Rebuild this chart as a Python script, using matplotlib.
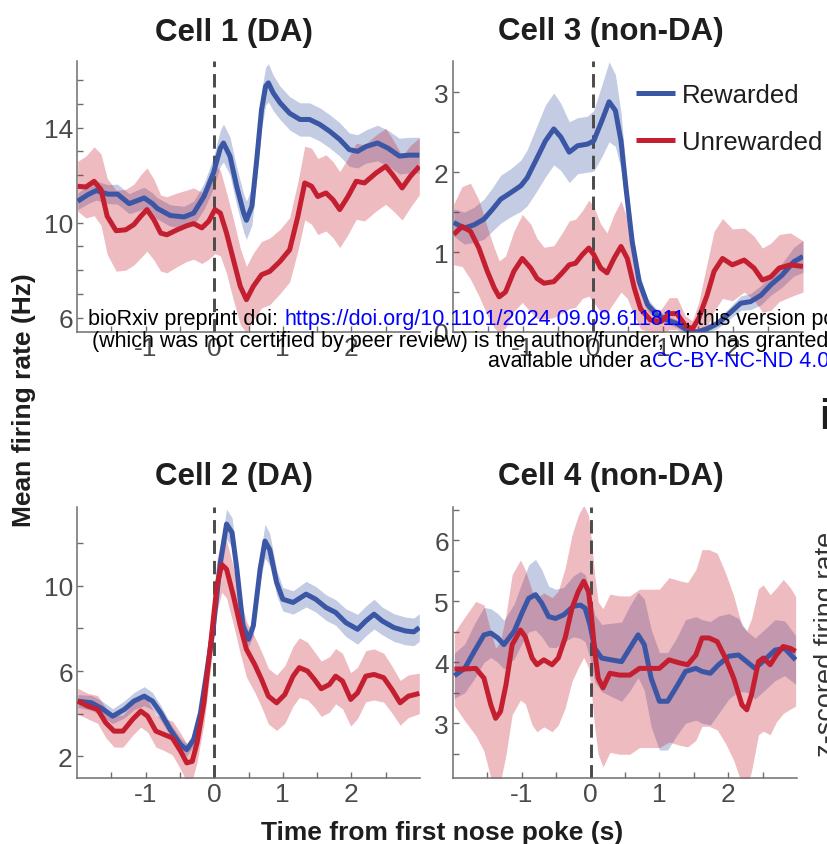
import matplotlib
matplotlib.use("Agg")
import matplotlib.pyplot as plt
from matplotlib.ticker import FixedLocator
import numpy as np

# ---------------- data: mean firing rate (Hz) and SEM around first nose poke ----------------
# Cell 1 (DA)
c1_t_rew = [-1.99, -1.84, -1.72, -1.55, -1.41, -1.24, -1.10, -1.02, -0.90, -0.83, -0.64, -0.44,
            -0.30, -0.15, -0.01, 0.09, 0.135, 0.23, 0.33, 0.43, 0.47, 0.55, 0.62, 0.69, 0.75, 0.79,
            0.86, 0.96, 1.10, 1.25, 1.39, 1.54, 1.68, 1.83, 1.97, 2.09, 2.21, 2.38, 2.53, 2.70, 2.84, 2.99]
c1_rew = [10.9, 11.18, 11.35, 11.2, 11.2, 10.8, 10.95, 11.04, 10.8, 10.6, 10.3, 10.24,
          10.4, 11.1, 12.1, 13.14, 13.35, 12.8, 11.5, 10.4, 10.1, 10.7, 12.65, 14.75, 15.74, 15.88,
          15.46, 15.04, 14.6, 14.34, 14.34, 14.13, 13.85, 13.5, 13.07, 13.0, 13.2, 13.35, 13.14, 12.8, 12.84, 12.84]
c1_rew_sem = [0.35, 0.38, 0.4, 0.4, 0.42, 0.42, 0.45, 0.45, 0.45, 0.45, 0.45, 0.45,
              0.5, 0.55, 0.65, 0.75, 0.8, 0.8, 0.8, 0.8, 0.8, 0.8, 0.8, 0.8, 0.8, 0.8,
              0.75, 0.7, 0.7, 0.7, 0.7, 0.7, 0.7, 0.7, 0.7, 0.7, 0.7, 0.75, 0.75, 0.75, 0.75, 0.75]
c1_t_unr = [-1.99, -1.87, -1.75, -1.65, -1.56, -1.43, -1.29, -1.17, -1.07, -0.98, -0.88, -0.78,
            -0.69, -0.54, -0.40, -0.30, -0.18, -0.08, 0.01, 0.09, 0.18, 0.28, 0.38, 0.47, 0.57,
            0.69, 0.81, 0.96, 1.10, 1.22, 1.32, 1.42, 1.51, 1.63, 1.73, 1.83, 1.95, 2.07, 2.19,
            2.36, 2.50, 2.60, 2.74, 2.86, 2.99]
c1_unr = [11.53, 11.5, 11.74, 11.39, 10.27, 9.66, 9.7, 9.92, 10.27, 10.55, 10.13, 9.56,
          9.49, 9.7, 9.87, 9.96, 9.78, 10.06, 10.55, 10.4, 9.56, 8.44, 7.32, 6.76, 7.32,
          7.81, 7.95, 8.37, 8.86, 10.27, 11.67, 11.53, 11.1, 11.25, 10.97, 10.55, 11.1, 11.74, 11.67,
          12.09, 12.37, 12.02, 11.46, 11.95, 12.37]
c1_unr_sem = [1.05, 1.3, 1.45, 1.5, 1.6, 1.7, 1.7, 1.7, 1.75, 1.75, 1.7, 1.6,
              1.6, 1.55, 1.5, 1.5, 1.5, 1.6, 1.85, 1.8, 1.7, 1.7, 1.6, 1.4, 1.4,
              1.4, 1.4, 1.35, 1.35, 1.45, 1.55, 1.6, 1.6, 1.6, 1.6, 1.6, 1.6, 1.6, 1.6,
              1.6, 1.6, 1.5, 1.35, 1.3, 1.2]

# Cell 3 (non-DA)
c3_t_rew = [-1.99, -1.84, -1.70, -1.56, -1.44, -1.32, -1.18, -1.03, -0.94, -0.82, -0.68, -0.56,
            -0.46, -0.34, -0.22, -0.08, 0.01, 0.13, 0.23, 0.32, 0.40, 0.47, 0.56, 0.66, 0.78,
            0.92, 1.06, 1.20, 1.35, 1.49, 1.63, 1.78, 1.92, 2.11, 2.25, 2.40, 2.54, 2.70, 2.87, 3.0]
c3_rew = [1.37, 1.30, 1.34, 1.41, 1.53, 1.66, 1.74, 1.83, 1.93, 2.14, 2.39, 2.54,
          2.44, 2.25, 2.33, 2.35, 2.39, 2.65, 2.88, 2.77, 2.39, 1.81, 1.13, 0.63, 0.34,
          0.21, 0.15, 0.105, 0.02, 0.0, 0.04, 0.105, 0.21, 0.36, 0.38, 0.46, 0.59, 0.71, 0.88, 0.945]
c3_rew_sem = [0.17, 0.2, 0.22, 0.25, 0.27, 0.3, 0.3, 0.32, 0.35, 0.4, 0.45, 0.45,
              0.42, 0.38, 0.35, 0.35, 0.38, 0.45, 0.5, 0.45, 0.35, 0.25, 0.15, 0.1, 0.08,
              0.06, 0.05, 0.05, 0.04, 0.04, 0.05, 0.06, 0.07, 0.09, 0.1, 0.12, 0.13, 0.15, 0.18, 0.2]
c3_t_unr = [-1.99, -1.87, -1.75, -1.63, -1.51, -1.41, -1.34, -1.25, -1.13, -1.01, -0.89, -0.80,
            -0.70, -0.56, -0.44, -0.34, -0.25, -0.15, -0.06, 0.01, 0.11, 0.20, 0.30, 0.40, 0.49,
            0.59, 0.68, 0.82, 0.97, 1.09, 1.20, 1.32, 1.42, 1.51, 1.63, 1.73, 1.85, 1.99, 2.16,
            2.30, 2.42, 2.54, 2.66, 2.82, 3.0]
c3_unr = [1.22, 1.32, 1.26, 1.05, 0.76, 0.55, 0.44, 0.50, 0.76, 0.92, 0.80, 0.67,
          0.61, 0.63, 0.74, 0.84, 0.86, 0.97, 1.05, 0.97, 0.80, 0.74, 0.92, 1.07, 0.92,
          0.55, 0.29, 0.15, 0.13, 0.23, 0.23, 0.08, 0.04, 0.17, 0.46, 0.76, 0.92, 0.84, 0.90,
          0.80, 0.65, 0.69, 0.80, 0.84, 0.82]
c3_unr_sem = [0.38, 0.5, 0.6, 0.6, 0.55, 0.5, 0.45, 0.45, 0.5, 0.55, 0.55, 0.5,
              0.45, 0.45, 0.5, 0.55, 0.55, 0.55, 0.6, 0.6, 0.55, 0.5, 0.55, 0.57, 0.5,
              0.35, 0.25, 0.15, 0.15, 0.2, 0.2, 0.12, 0.1, 0.2, 0.4, 0.5, 0.5, 0.45, 0.4,
              0.4, 0.4, 0.42, 0.42, 0.4, 0.32]

# Cell 2 (DA)
c2_t_rew = [-1.99, -1.79, -1.65, -1.48, -1.31, -1.17, -1.02, -0.90, -0.78, -0.64, -0.49, -0.40,
            -0.30, -0.20, -0.11, -0.01, 0.09, 0.18, 0.26, 0.33, 0.42, 0.50, 0.57, 0.67, 0.74,
            0.81, 0.91, 1.00, 1.15, 1.34, 1.48, 1.63, 1.77, 1.92, 2.09, 2.21, 2.33, 2.45, 2.62,
            2.79, 2.91, 2.99]
c2_rew = [4.59, 4.51, 4.27, 3.88, 4.2, 4.59, 4.82, 4.59, 4.04, 3.25, 2.55, 2.31,
          2.78, 4.04, 5.92, 8.12, 11.1, 12.9, 12.5, 10.8, 8.12, 7.49, 8.12, 10.8, 12.1,
          11.7, 10.16, 9.37, 9.22, 9.61, 9.37, 8.98, 8.75, 8.27, 7.96, 8.35, 8.67, 8.35, 8.04,
          7.88, 7.84, 8.04]
c2_rew_sem = [0.3, 0.35, 0.35, 0.35, 0.4, 0.4, 0.45, 0.4, 0.35, 0.3, 0.3, 0.3,
              0.3, 0.35, 0.45, 0.55, 0.65, 0.7, 0.7, 0.6, 0.45, 0.35, 0.45, 0.6, 0.8,
              0.75, 0.6, 0.55, 0.55, 0.6, 0.6, 0.6, 0.6, 0.65, 0.7, 0.7, 0.7, 0.65, 0.65,
              0.65, 0.65, 0.65]
c2_t_unr = [-1.99, -1.84, -1.70, -1.58, -1.46, -1.33, -1.19, -1.07, -0.97, -0.85, -0.73, -0.61,
            -0.49, -0.40, -0.32, -0.25, -0.15, -0.06, 0.04, 0.11, 0.18, 0.28, 0.38, 0.47, 0.59,
            0.69, 0.79, 0.91, 1.03, 1.15, 1.24, 1.36, 1.46, 1.56, 1.68, 1.77, 1.87, 1.99, 2.09,
            2.21, 2.33, 2.47, 2.59, 2.71, 2.83, 2.99]
c2_unr = [4.59, 4.35, 4.2, 3.57, 3.18, 3.18, 3.73, 4.12, 3.88, 3.18, 3.02, 2.86,
          2.24, 1.69, 1.76, 2.63, 4.51, 7.02, 10.0, 11.0, 10.78, 9.53, 8.12, 7.02, 6.31,
          5.61, 4.82, 4.51, 4.9, 5.76, 6.16, 6.0, 5.61, 5.17, 5.37, 5.76, 5.53, 4.67, 4.98,
          5.76, 5.84, 5.69, 5.14, 4.51, 4.82, 4.95]
c2_unr_sem = [0.6, 0.6, 0.65, 0.7, 0.75, 0.75, 0.75, 0.75, 0.75, 0.75, 0.75, 0.8,
              0.85, 0.9, 0.9, 0.9, 1.0, 1.1, 1.2, 1.3, 1.35, 1.35, 1.3, 1.3, 1.3,
              1.3, 1.3, 1.3, 1.35, 1.4, 1.4, 1.35, 1.3, 1.3, 1.3, 1.3, 1.3, 1.25, 1.2,
              1.2, 1.2, 1.15, 1.1, 1.05, 1.0, 0.95]

# Cell 4 (non-DA)
c4_t_rew = [-1.98, -1.83, -1.69, -1.55, -1.45, -1.35, -1.26, -1.11, -0.99, -0.90, -0.80, -0.71,
            -0.61, -0.51, -0.39, -0.25, -0.15, -0.08, -0.01, 0.06, 0.16, 0.30, 0.45, 0.57, 0.69,
            0.78, 0.88, 1.00, 1.12, 1.24, 1.38, 1.53, 1.62, 1.74, 1.86, 2.01, 2.15, 2.27, 2.39,
            2.53, 2.68, 2.82, 2.98]
c4_rew = [3.78, 3.90, 4.18, 4.45, 4.48, 4.40, 4.29, 4.51, 4.83, 5.05, 5.11, 4.97,
          4.75, 4.72, 4.78, 4.92, 4.94, 4.89, 4.62, 4.23, 4.07, 4.04, 4.01, 4.23, 4.45,
          4.29, 3.74, 3.36, 3.36, 3.58, 3.85, 3.90, 3.85, 3.82, 3.96, 4.10, 4.12, 4.01, 3.90,
          4.04, 4.20, 4.23, 4.04]
c4_rew_sem = [0.37, 0.4, 0.45, 0.45, 0.4, 0.4, 0.4, 0.45, 0.5, 0.55, 0.58, 0.55,
              0.5, 0.48, 0.45, 0.5, 0.55, 0.55, 0.55, 0.55, 0.55, 0.6, 0.65, 0.7, 0.7,
              0.75, 0.8, 0.8, 0.8, 0.8, 0.85, 0.85, 0.85, 0.85, 0.8, 0.7, 0.6, 0.5, 0.5,
              0.5, 0.5, 0.45, 0.4]
c4_t_unr = [-1.98, -1.83, -1.67, -1.55, -1.45, -1.38, -1.31, -1.23, -1.14, -1.02, -0.95, -0.85,
            -0.78, -0.68, -0.56, -0.47, -0.37, -0.27, -0.18, -0.10, -0.03, 0.01, 0.06, 0.11, 0.18,
            0.28, 0.42, 0.57, 0.71, 0.85, 1.00, 1.14, 1.29, 1.41, 1.53, 1.62, 1.72, 1.84, 1.96,
            2.08, 2.20, 2.27, 2.34, 2.44, 2.51, 2.61, 2.70, 2.80, 2.90, 2.98]
c4_unr = [3.89, 3.89, 3.90, 3.74, 3.30, 3.08, 3.19, 3.63, 4.29, 4.53, 4.42, 4.07,
          3.96, 4.04, 3.96, 4.07, 4.40, 4.89, 5.16, 5.33, 5.16, 4.78, 4.18, 3.74, 3.58,
          3.82, 3.79, 3.79, 3.90, 3.90, 3.90, 4.04, 3.99, 3.96, 4.12, 4.40, 4.40, 4.34, 4.07,
          3.74, 3.30, 3.22, 3.47, 4.01, 4.07, 3.96, 4.12, 4.26, 4.23, 4.18]
c4_unr_sem = [0.6, 0.85, 1.1, 1.2, 1.2, 1.15, 1.15, 1.15, 1.15, 1.15, 1.1, 1.1,
              1.1, 1.1, 1.1, 1.1, 1.15, 1.2, 1.25, 1.25, 1.25, 1.25, 1.25, 1.25, 1.3,
              1.3, 1.3, 1.3, 1.3, 1.3, 1.3, 1.35, 1.35, 1.35, 1.4, 1.45, 1.45, 1.45, 1.4,
              1.35, 1.3, 1.3, 1.25, 1.2, 1.2, 1.15, 1.1, 1.1, 1.0, 0.9]

titles = ["Cell 1 (DA)", "Cell 3 (non-DA)", "Cell 2 (DA)", "Cell 4 (non-DA)"]
series_labels = ["Rewarded", "Unrewarded"]
x_major = [-1, 0, 1, 2]
x_minor = [-1.5, -0.5, 0.5, 1.5, 2.5]

# ---------------- style ----------------
plt.rcParams["font.family"] = ["Liberation Sans", "DejaVu Sans"]
plt.rcParams["axes.unicode_minus"] = False

W, H = 828, 845
BLUE = "#3a56a5"
RED = "#c41f30"
AXIS_GRAY = "#6e6e6e"
TICK_TXT = "#4a4a4a"
TXT = "#1e1e1e"

fig = plt.figure(figsize=(W / 100, H / 100), dpi=100)


def rect(left, top, right, bottom):
    return [left / W, 1 - bottom / H, (right - left) / W, (bottom - top) / H]


panels = [
    dict(rect=rect(77, 62, 420, 333), ylim=(5.4, 16.8), ymaj=[6, 10, 14],
         ymin=[7, 8, 9, 11, 12, 13, 15, 16],
         rew=(c1_t_rew, c1_rew, c1_rew_sem), unr=(c1_t_unr, c1_unr, c1_unr_sem)),
    dict(rect=rect(453, 62, 803, 333), ylim=(0, 3.39), ymaj=[0, 1, 2, 3],
         ymin=[0.5, 1.5, 2.5],
         rew=(c3_t_rew, c3_rew, c3_rew_sem), unr=(c3_t_unr, c3_unr, c3_unr_sem)),
    dict(rect=rect(77, 508, 420, 779), ylim=(0.98, 13.7), ymaj=[2, 6, 10],
         ymin=[4, 8, 12],
         rew=(c2_t_rew, c2_rew, c2_rew_sem), unr=(c2_t_unr, c2_unr, c2_unr_sem)),
    dict(rect=rect(453, 508, 797, 779), ylim=(2.1, 6.55), ymaj=[3, 4, 5, 6],
         ymin=[2.5, 3.5, 4.5, 5.5, 6.5],
         rew=(c4_t_rew, c4_rew, c4_rew_sem), unr=(c4_t_unr, c4_unr, c4_unr_sem)),
]

title_pos = [(234, 33), (611, 32), (234, 477), (611, 477)]

axes = []
legend_handles = None
for p, title, (tx, ty) in zip(panels, titles, title_pos):
    ax = fig.add_axes(p["rect"])
    axes.append(ax)
    handles = []
    for (t, m, s), color in ((p["rew"], BLUE), (p["unr"], RED)):
        t = np.asarray(t)
        m = np.asarray(m)
        s = np.asarray(s)
        ax.fill_between(t, m - s, m + s, color=color, alpha=0.3, lw=0, zorder=2)
        ln, = ax.plot(t, m, color=color, lw=3.6, solid_joinstyle="round",
                      solid_capstyle="butt", zorder=3)
        handles.append(ln)
    if legend_handles is None:
        legend_handles = handles
    ax.axvline(0, color="#4a4a4a", lw=2.1, linestyle=(0, (4.6, 2.4)), zorder=2.5)

    ax.set_xlim(-2, 3)
    ax.set_ylim(*p["ylim"])
    ax.xaxis.set_major_locator(FixedLocator(x_major))
    ax.xaxis.set_minor_locator(FixedLocator(x_minor))
    ax.yaxis.set_major_locator(FixedLocator(p["ymaj"]))
    ax.yaxis.set_minor_locator(FixedLocator(p["ymin"]))
    ax.set_xticklabels([str(v) for v in x_major])
    ax.set_yticklabels([f"{v:g}" for v in p["ymaj"]])

    for side in ("top", "right"):
        ax.spines[side].set_visible(False)
    for side in ("left", "bottom"):
        ax.spines[side].set_color(AXIS_GRAY)
        ax.spines[side].set_linewidth(1.1)
    ax.tick_params(which="both", direction="in", length=4, width=1.0,
                   color=AXIS_GRAY, labelcolor=TICK_TXT, labelsize=19, pad=3)
    ax.patch.set_alpha(0)

    fig.text(tx / W, 1 - ty / H, title, ha="center", va="center",
             fontsize=22.5, fontweight="bold", color=TXT)

# legend inside the Cell 3 panel
axes[1].legend(legend_handles, series_labels, loc="upper left",
               bbox_to_anchor=(636 / W, 1 - 84 / H), bbox_transform=fig.transFigure,
               frameon=False, fontsize=18.5, handlelength=1.5, handletextpad=0.28,
               labelspacing=0.9, borderpad=0, borderaxespad=0)
for txt in axes[1].get_legend().get_texts():
    txt.set_color(TXT)

# shared axis labels
fig.text(24 / W, 1 - 400 / H, "Mean firing rate (Hz)", rotation=90, ha="center",
         va="center", fontsize=19, fontweight="bold", color=TXT)
fig.text(442 / W, 1 - 833 / H, "Time from first nose poke (s)", ha="center",
         va="center", fontsize=19, fontweight="bold", color=TXT)

# neighbouring panel fragments at the right edge
fig.text(819 / W, 1 - 418 / H, "i", ha="left", va="center", fontsize=30,
         fontweight="bold", color=TXT)
fig.text(834 / W, 1 - 644 / H, "z-scored firing rate", rotation=90,
         rotation_mode="anchor", ha="center", va="baseline", fontsize=19.5, color="#333333")

# preprint stamp
WM = 15.5


def stamp_line(x, y, parts):
    """Draw consecutive coloured text pieces starting at pixel (x, y)."""
    renderer = fig.canvas.get_renderer()
    cur = x / W
    for s, c in parts:
        t = fig.text(cur, 1 - y / H, s, ha="left", va="center", fontsize=WM, color=c, zorder=10)
        bb = t.get_window_extent(renderer=renderer)
        cur = bb.x1 / W


stamp_line(88, 320, [("bioRxiv preprint doi: ", "black"),
                     ("https://doi.org/10.1101/2024.09.09.611811", "#0000ff"),
                     ("; this version posted", "black")])
stamp_line(92, 342, [("(which was not certified by peer review) is the author/funder, who has granted bioRxiv", "black")])
stamp_line(488, 362, [("available under a", "black"),
                      ("CC-BY-NC-ND 4.0 International license", "#0000ff")])

fig.savefig("out.png", dpi=100)
